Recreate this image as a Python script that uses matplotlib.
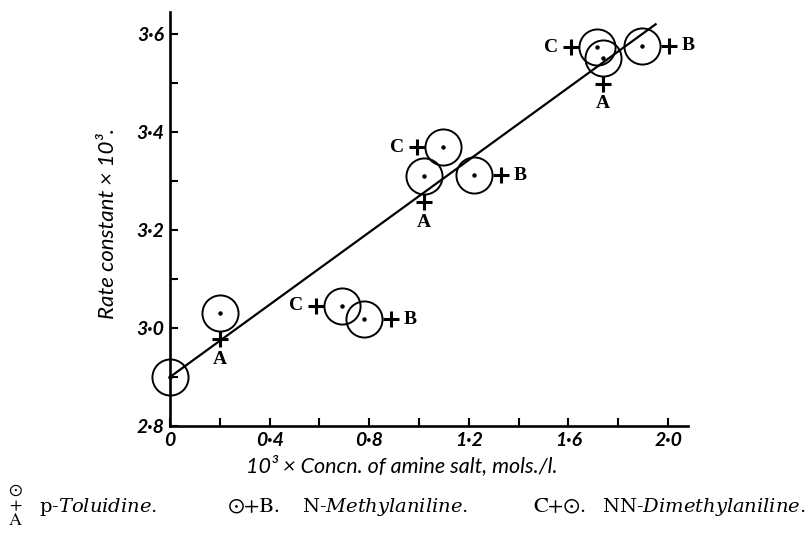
import matplotlib
matplotlib.use('Agg')
import matplotlib.pyplot as plt
from matplotlib.transforms import offset_copy

# data
origin_x = [0.0]
origin_y = [2.90]

# p-Toluidine (A)
a_x = [0.20, 1.02, 1.74]
a_y = [3.03, 3.31, 3.552]
# N-Methylaniline (B)
b_x = [0.78, 1.22, 1.895]
b_y = [3.018, 3.312, 3.576]
# NN-Dimethylaniline (C)
c_x = [0.69, 1.095, 1.715]
c_y = [3.045, 3.369, 3.573]

# fitted line
line_x = [0.0, 1.95]
line_y = [2.90, 3.62]

x_ticks = [0, 0.4, 0.8, 1.2, 1.6, 2.0]
y_ticks = [2.8, 3.0, 3.2, 3.4, 3.6]
x_minor = [0.2, 0.6, 1.0, 1.4, 1.8]
y_minor = [2.9, 3.1, 3.3, 3.5]

plt.rcParams['mathtext.fontset'] = 'dejavuserif'

fig = plt.figure(figsize=(8.09, 5.33), dpi=100)
ax = fig.add_axes([170/809, 1-426/533, 518/809, 414/533])

ax.plot(line_x, line_y, c='black', lw=1.6, zorder=2)

circ = dict(ls='none', marker='o', ms=26, mfc='none', mec='black', mew=1.4,
            zorder=3, clip_on=False)
dot = dict(ls='none', marker='o', ms=2.2, c='black', zorder=3, clip_on=False)
plus = dict(ls='none', marker='+', ms=11, mew=2.2, c='black', zorder=3)
lab = dict(fontsize=14, fontweight='bold', family='Liberation Serif',
           ha='center', va='center', textcoords='offset pixels')

for xs, ys in [(origin_x, origin_y), (a_x, a_y), (b_x, b_y), (c_x, c_y)]:
    ax.plot(xs, ys, **circ)
    ax.plot(xs, ys, **dot)

# +A below, +B right, C+ left
groups = [(a_x, a_y, 'A', (0, -26), (0, -46)),
          (b_x, b_y, 'B', (27, 0), (46, 0)),
          (c_x, c_y, 'C', (-26, 0), (-46, 0))]
for xs, ys, name, p_off, t_off in groups:
    tr = offset_copy(ax.transData, fig=fig, x=p_off[0], y=p_off[1], units='dots')
    ax.plot(xs, ys, transform=tr, **plus)
    for x, y in zip(xs, ys):
        ax.annotate(name, (x, y), xytext=t_off, **lab)

ax.set_xlim(0, 2.08)
ax.set_ylim(2.8, 3.645)

for s in ['top', 'right']:
    ax.spines[s].set_visible(False)
for s in ['left', 'bottom']:
    ax.spines[s].set_linewidth(1.9)

def fmt(v):
    return '0' if v == 0 else f'{v:.1f}'.replace('.', '·')

tick_font = dict(family='Lato', fontweight='bold', style='italic', fontsize=14)
ax.set_xticks(x_ticks)
ax.set_xticklabels([fmt(v) for v in x_ticks], **tick_font)
ax.set_yticks(y_ticks)
ax.set_yticklabels([fmt(v) for v in y_ticks], **tick_font)
ax.set_xticks(x_minor, minor=True)
ax.set_yticks(y_minor, minor=True)
ax.tick_params(which='both', direction='in', length=6, width=1.5)
ax.tick_params(axis='x', pad=4)
ax.tick_params(axis='y', pad=4)

ax.set_xlabel('10³ × Concn. of amine salt, mols./l.', family='Lato', style='italic',
              fontsize=15.5)
ax.xaxis.set_label_coords((402-170)/518, -0.07)
ax.set_ylabel('Rate constant × 10³.', family='Lato', style='italic', fontsize=16)
ax.yaxis.set_label_coords(-0.1, 0.49)

# key below the plot
def ftext(px, py, s, size=14, ha='left', family='DejaVu Serif', **kw):
    fig.text(px/809, 1-py/533, s, family=family, fontsize=size, ha=ha, va='center', **kw)

ftext(15, 506, '⊙\n+\nA', 13, 'center', 'STIXGeneral', linespacing=0.95)
ftext(39, 507, r'p-$\it{Toluidine}$.')
ftext(228, 507, '⊙+B.', 16, family='STIXGeneral')
ftext(302, 507, r'N-$\it{Methylaniline}$.')
ftext(533, 507, 'C+⊙.', 16, family='STIXGeneral')
ftext(602, 507, r'NN-$\it{Dimethylaniline}$.')

fig.savefig('out.png', dpi=100)
